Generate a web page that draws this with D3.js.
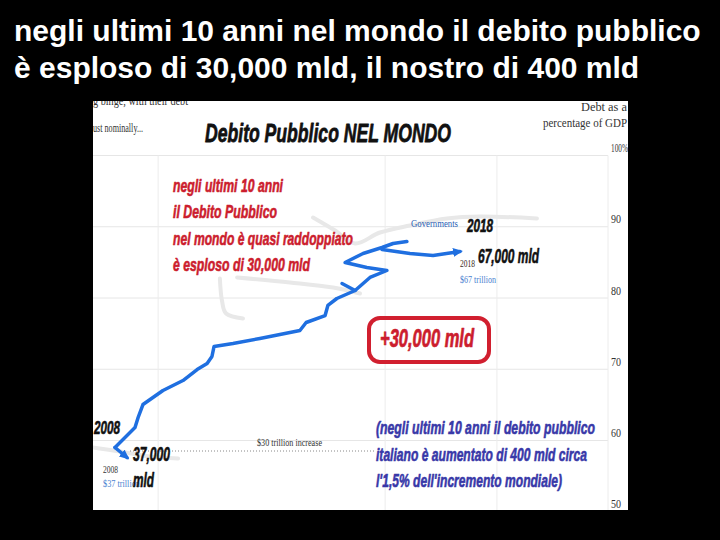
<!DOCTYPE html>
<html><head><meta charset="utf-8">
<script src="https://cdn.jsdelivr.net/npm/d3@7"></script>
<style>
html,body{margin:0;padding:0;background:#000;overflow:hidden;}
svg{display:block;}
</style></head><body>
<script>
// ---------------- data ----------------
const headline = ["negli ultimi 10 anni nel mondo il debito pubblico",
                  "è esploso di 30,000 mld, il nostro di 400 mld"];
const chartTitle = "Debito Pubblico NEL MONDO";
const pctTicks = [100, 90, 80, 70, 60, 50];
const gridPct = [100, 90, 80, 70, 60];
const gridYears = [2009.25, 2015.83, 2019.07, 2022.29];

// hand-drawn blue line (year, debt as % of GDP)
const lineYears = [2008.00, 2008.58, 2008.67, 2008.81, 2009.39, 2009.97, 2010.38, 2010.67, 2010.81, 2010.87,
                   2011.42, 2012.20, 2012.78, 2013.36, 2013.54, 2014.09, 2014.17, 2014.43, 2014.96, 2015.39,
                   2015.88, 2015.30, 2014.67, 2015.19, 2015.74, 2016.06, 2016.46];
const linePct   = [59.02, 61.82, 63.23, 65.05, 67.02, 68.42, 69.96, 70.81, 71.79, 73.19,
                   73.61, 74.32, 74.88, 75.44, 76.56, 77.54, 78.95, 79.93, 81.05, 82.88,
                   83.86, 84.28, 84.98, 86.25, 87.09, 87.65, 87.93];
const hookYears = [2014.96, 2014.58];
const hookPct   = [81.05, 82.04];
const startArrowYears = [2008.00, 2008.35];
const startArrowPct   = [59.02, 57.61];
const endArrowYears = [2015.74, 2016.55, 2017.22, 2018.00];
const endArrowPct   = [86.81, 86.25, 85.96, 86.53];

// faded original chart line underneath
const ghostYears = [[2007.36, 2008.14, 2009.01, 2009.83],
                    [2011.04, 2011.10, 2011.22, 2011.71],
                    [2011.54, 2013.07, 2014.32, 2015.10],
                    [2013.74, 2014.38, 2014.96, 2015.68, 2016.55, 2017.62, 2018.58, 2020.23]];
const ghostPct   = [[59.02, 58.46, 57.75, 57.47],
                    [82.74, 79.65, 77.82, 77.12],
                    [82.88, 82.18, 81.47, 80.63],
                    [91.30, 89.47, 87.65, 89.19, 90.18, 91.16, 91.44, 91.16]];

const startYear = 2008, endYear = 2018;
const debtStart = 37, debtEnd = 67;   // trillion $
const redNote = ["negli ultimi 10 anni", "il Debito Pubblico",
                 "nel mondo è quasi raddoppiato", "è esploso di 30,000 mld"];
const blueNote = ["(negli ultimi 10 anni il debito pubblico",
                  "italiano è aumentato di 400 mld circa",
                  "l'1,5% dell'incremento mondiale)"];
const sourceFragments = ["g binge, with their debt", "ust nominally..."];
const axisTitle = ["Debt as a", "percentage of GDP"];

// ---------------- drawing ----------------
const W = 720, H = 540;
const svg = d3.select("body").append("svg").attr("width", W).attr("height", H);
svg.append("rect").attr("width", W).attr("height", H).attr("fill", "#000");

const SANS = "'Liberation Sans', Arial, sans-serif";
const SERIF = "'Liberation Serif', 'Times New Roman', serif";

// headline
svg.selectAll("text.hl").data(headline).join("text")
  .attr("class", "hl").attr("x", 14).attr("y", (d, i) => 41 + i * 37)
  .attr("fill", "#fff").attr("font-family", SANS).attr("font-weight", "bold")
  .attr("font-size", 30).text(d => d);

// picture frame
const img = {x: 93, y: 101, w: 535, h: 409};
const defs = svg.append("defs");
defs.append("clipPath").attr("id", "clip").append("rect")
  .attr("x", img.x).attr("y", img.y).attr("width", img.w).attr("height", img.h);
const mk = defs.append("marker").attr("id", "arrow").attr("markerUnits", "userSpaceOnUse")
  .attr("viewBox", "0 0 10 10").attr("refX", 7).attr("refY", 5)
  .attr("markerWidth", 10).attr("markerHeight", 10).attr("orient", "auto");
mk.append("path").attr("d", "M0,0.5 L10,5 L0,9.5 Z").attr("fill", "#1f6fe0");

const g = svg.append("g").attr("clip-path", "url(#clip)");
g.append("rect").attr("x", img.x).attr("y", img.y).attr("width", img.w).attr("height", img.h).attr("fill", "#fff");

const x = d3.scaleLinear().domain([startYear, endYear]).range([115, 460]);
const y = d3.scaleLinear().domain([60, 100]).range([440.5, 155.5]);

// grid
g.selectAll("line.hg").data(gridPct).join("line").attr("class", "hg")
  .attr("x1", img.x).attr("x2", 608).attr("y1", d => y(d)).attr("y2", d => y(d))
  .attr("stroke", "#e6e6e6").attr("stroke-width", 1);
g.selectAll("line.vg").data(gridYears).join("line").attr("class", "vg")
  .attr("x1", d => x(d)).attr("x2", d => x(d)).attr("y1", y(100)).attr("y2", img.y + img.h)
  .attr("stroke", "#ececec").attr("stroke-width", 1);

// axis (right)
const ax = g.append("g").attr("transform", "translate(611,0)")
  .call(d3.axisRight(y).tickValues(pctTicks).tickSize(0).tickPadding(0)
        .tickFormat(d => d === 100 ? "100%" : d));
ax.select(".domain").remove();
ax.selectAll("text").attr("dy", -4).attr("font-family", SERIF).attr("font-size", 12)
  .attr("fill", "#333").attr("dominant-baseline", "auto")
  .attr("textLength", d => d === 100 ? 17 : 10).attr("lengthAdjust", "spacingAndGlyphs");

// axis title
g.selectAll("text.at").data(axisTitle).join("text").attr("class", "at")
  .attr("x", 627).attr("y", (d, i) => 111 + i * 16).attr("text-anchor", "end")
  .attr("font-family", SERIF).attr("font-size", 11.5).attr("fill", "#333")
  .attr("textLength", (d, i) => [46, 84][i]).attr("lengthAdjust", "spacingAndGlyphs").text(d => d);

// source fragments (top-left, cut)
g.selectAll("text.sf").data(sourceFragments).join("text").attr("class", "sf")
  .attr("x", 93).attr("y", (d, i) => 105 + i * 27)
  .attr("font-family", SERIF).attr("font-size", 13).attr("fill", "#333")
  .attr("textLength", (d, i) => [95, 50][i]).attr("lengthAdjust", "spacingAndGlyphs").text(d => d);

// bold italic condensed helper (extra stroke to mimic heavy narrow face)
const BI = (sel, color, sw) => sel.attr("font-family", SANS).attr("font-weight", "bold")
  .attr("font-style", "italic").attr("lengthAdjust", "spacingAndGlyphs")
  .attr("fill", color).attr("stroke", color).attr("stroke-width", sw == null ? 0.6 : sw)
  .attr("stroke-linejoin", "round");

// chart title
BI(g.append("text").attr("x", 205).attr("y", 142).attr("font-size", 26)
  .attr("textLength", 246).text(chartTitle), "#111", 0.8);

// ghost line
const line = d3.line().x(d => x(d[0])).y(d => y(d[1])).curve(d3.curveCatmullRom.alpha(0.5));
ghostYears.forEach((ys, k) => {
  g.append("path").datum(ys.map((v, i) => [v, ghostPct[k][i]]))
    .attr("d", line).attr("fill", "none").attr("stroke", "#e8e8e8")
    .attr("stroke-width", 4).attr("stroke-linecap", "round");
});

// dotted increase line
g.append("line").attr("x1", 130).attr("x2", 376).attr("y1", 451).attr("y2", 451)
  .attr("stroke", "#888").attr("stroke-width", 1).attr("stroke-dasharray", "1,2");

// small original labels
const fmtT = d => "$" + d + " trillion";
g.append("text").attr("x", 411).attr("y", 227).attr("font-family", SERIF).attr("font-size", 11)
  .attr("fill", "#2b5fb5").attr("textLength", 47).attr("lengthAdjust", "spacingAndGlyphs").text("Governments");
g.append("text").attr("x", 460).attr("y", 267).attr("font-family", SERIF).attr("font-size", 10)
  .attr("fill", "#3a2a20").attr("textLength", 15).attr("lengthAdjust", "spacingAndGlyphs").text(endYear);
g.append("text").attr("x", 460).attr("y", 283).attr("font-family", SERIF).attr("font-size", 10)
  .attr("fill", "#4a7fd0").attr("textLength", 36).attr("lengthAdjust", "spacingAndGlyphs").text(fmtT(debtEnd));
g.append("text").attr("x", 103).attr("y", 473).attr("font-family", SERIF).attr("font-size", 10)
  .attr("fill", "#333").attr("textLength", 15).attr("lengthAdjust", "spacingAndGlyphs").text(startYear);
g.append("text").attr("x", 103).attr("y", 487).attr("font-family", SERIF).attr("font-size", 10)
  .attr("fill", "#4a7fd0").attr("textLength", 37).attr("lengthAdjust", "spacingAndGlyphs").text(fmtT(debtStart));
g.append("text").attr("x", 257).attr("y", 446).attr("font-family", SERIF).attr("font-size", 10)
  .attr("fill", "#333").attr("textLength", 65).attr("lengthAdjust", "spacingAndGlyphs")
  .text(fmtT(debtEnd - debtStart) + " increase");

// blue drawn line
const pline = d3.line().x(d => x(d[0])).y(d => y(d[1]));
const blue = "#1f6fe0";
function stroke(ys, ps, arrow) {
  const p = g.append("path").datum(ys.map((v, i) => [v, ps[i]])).attr("d", pline)
    .attr("fill", "none").attr("stroke", blue).attr("stroke-width", 3.5)
    .attr("stroke-linejoin", "round").attr("stroke-linecap", "round");
  if (arrow) p.attr("marker-end", "url(#arrow)");
}
stroke(lineYears, linePct, false);
stroke(hookYears, hookPct, false);
stroke(startArrowYears, startArrowPct, true);
stroke(endArrowYears, endArrowPct, true);

// annotations
const fmtM = d => d3.format(",")(d * 1000);

BI(g.selectAll("text.rn").data(redNote).join("text").attr("class", "rn")
  .attr("x", 173).attr("y", (d, i) => 192 + i * 26.3).attr("font-size", 18)
  .attr("textLength", (d, i) => [110, 104, 180, 137][i]).text(d => d), "#cc1d2e");

BI(g.selectAll("text.bn").data(blueNote).join("text").attr("class", "bn")
  .attr("x", 376).attr("y", (d, i) => 434 + i * 26.5).attr("font-size", 18.5)
  .attr("textLength", (d, i) => [219, 211, 186][i]).text(d => d), "#3838a8");

BI(g.append("text").attr("x", 467).attr("y", 232).attr("font-size", 18)
  .attr("textLength", 26).text(endYear), "#111");
BI(g.append("text").attr("x", 478).attr("y", 263).attr("font-size", 20)
  .attr("textLength", 61).text(fmtM(debtEnd) + " mld"), "#111");
BI(g.append("text").attr("x", 94).attr("y", 434).attr("font-size", 18)
  .attr("textLength", 26).text(startYear), "#111");
BI(g.append("text").attr("x", 133).attr("y", 461).attr("font-size", 20)
  .attr("textLength", 37).text(fmtM(debtStart)), "#111");
BI(g.append("text").attr("x", 133).attr("y", 487).attr("font-size", 20)
  .attr("textLength", 21).text("mld"), "#111");

// +30,000 box
g.append("rect").attr("x", 369).attr("y", 318).attr("width", 120).attr("height", 44).attr("rx", 11)
  .attr("fill", "none").attr("stroke", "#d11f2f").attr("stroke-width", 4);
BI(g.append("text").attr("x", 380).attr("y", 347).attr("font-size", 25)
  .attr("textLength", 94).text("+" + fmtM(debtEnd - debtStart) + " mld"), "#cc1d2e", 0.7);
</script>
</body></html>
